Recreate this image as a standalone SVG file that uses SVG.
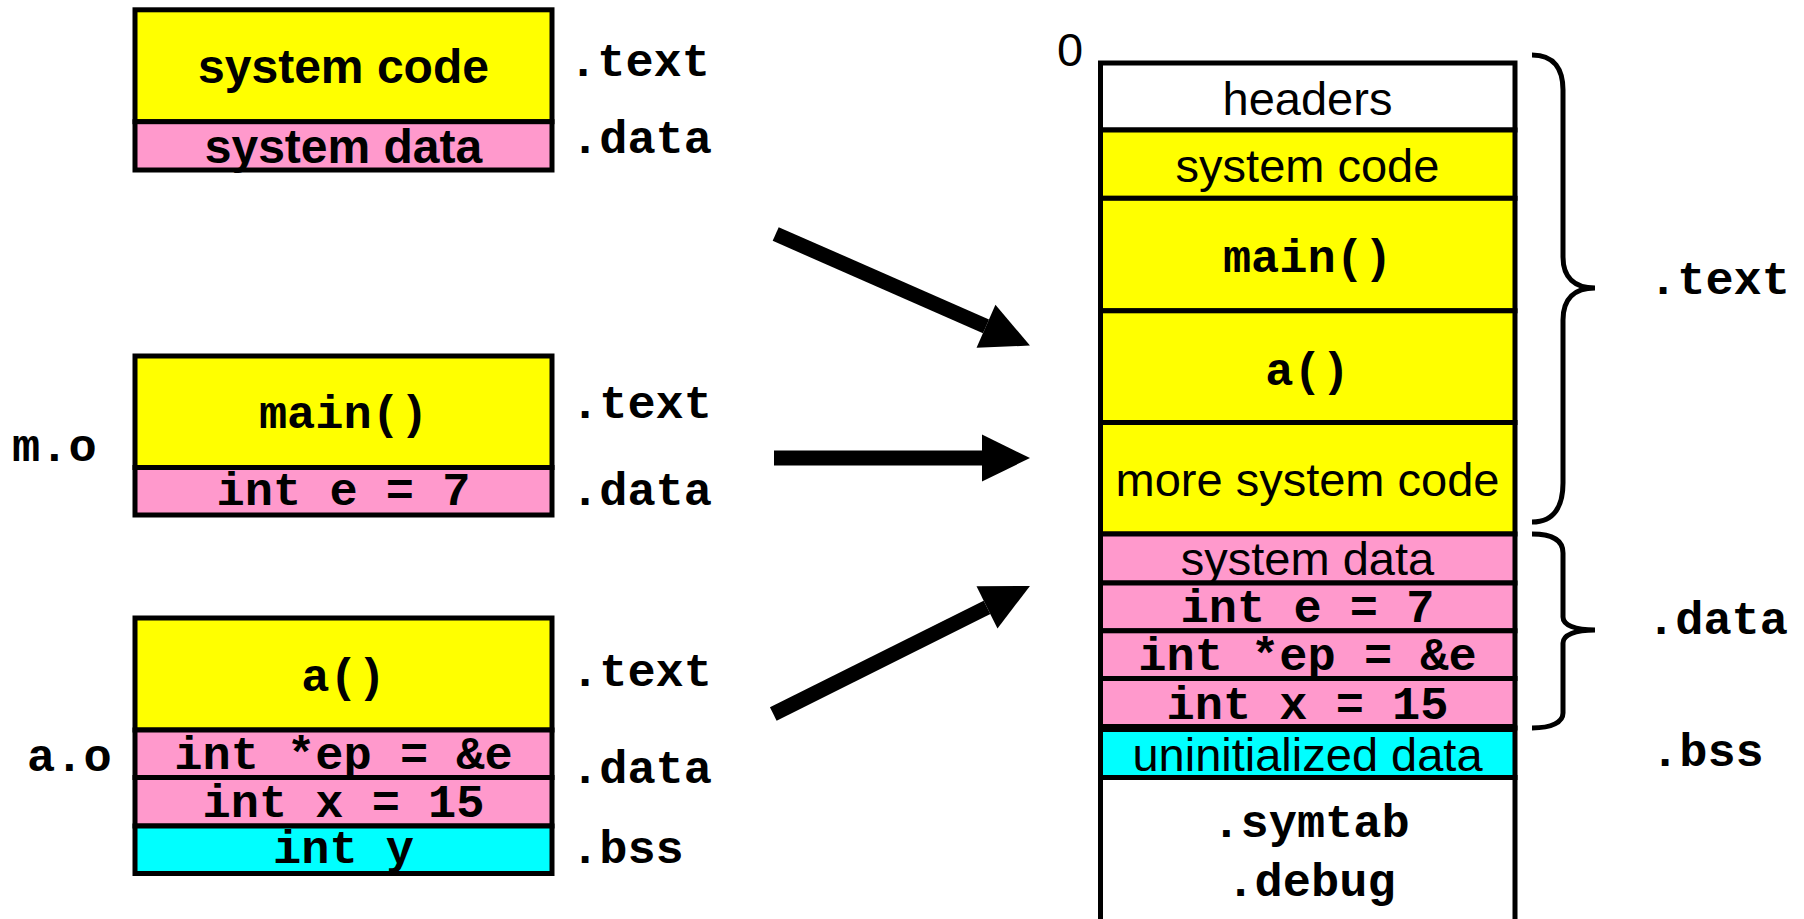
<svg xmlns="http://www.w3.org/2000/svg" width="1804" height="919" viewBox="0 0 1804 919">
  <style>
    .sec { stroke: #000; stroke-width: 5; }
    .y { fill: #FFFF00; }
    .p { fill: #FF99CC; }
    .c { fill: #00FFFF; }
    .w { fill: #FFFFFF; }
    .sans { font-family: "Liberation Sans", Arial, Helvetica, sans-serif; font-size: 47px; fill: #000; }
    .sansb { font-family: "Liberation Sans", Arial, Helvetica, sans-serif; font-size: 48px; font-weight: bold; fill: #000; }
    .mono { font-family: "Liberation Mono", "Courier New", monospace; font-size: 47px; font-weight: bold; fill: #000; }
    .mid { text-anchor: middle; }
    .brace { fill: none; stroke: #000; stroke-width: 5; }
    .arrow { stroke: #000; stroke-width: 15; fill: none; }
  </style>
  <defs>
    <marker id="head" markerUnits="userSpaceOnUse" markerWidth="50" markerHeight="48" refX="0" refY="23.5" orient="auto" overflow="visible">
      <path d="M0,0 L48,23.5 L0,47 Z" fill="#000"/>
    </marker>
  </defs>
  <rect width="1804" height="919" fill="#fff"/>

  <!-- system object -->
  <g id="sys-o">
    <g id="sys-text">
      <rect class="sec y" x="135" y="9.8" width="417" height="111.9"/>
      <text class="sansb mid" x="343.5" y="83">system code</text>
    </g>
    <g id="sys-data">
      <rect class="sec p" x="135" y="121.7" width="417" height="48.3"/>
      <text class="sansb mid" x="343.5" y="163">system data</text>
    </g>
    <text class="mono" x="569" y="76">.text</text>
    <text class="mono" x="571" y="153">.data</text>
  </g>

  <!-- m.o -->
  <g id="m-o">
    <g id="m-text">
      <rect class="sec y" x="135" y="356" width="417" height="111.5"/>
      <text class="mono mid" x="343.5" y="428">main()</text>
    </g>
    <g id="m-data">
      <rect class="sec p" x="135" y="467.5" width="417" height="47.5"/>
      <text class="mono mid" x="343.5" y="505">int e = 7</text>
    </g>
    <text class="mono" x="12" y="461">m.o</text>
    <text class="mono" x="571" y="418">.text</text>
    <text class="mono" x="571" y="505">.data</text>
  </g>

  <!-- a.o -->
  <g id="a-o">
    <g id="a-text">
      <rect class="sec y" x="135" y="618" width="417" height="112"/>
      <text class="mono mid" x="343.5" y="691">a()</text>
    </g>
    <g id="a-data1">
      <rect class="sec p" x="135" y="730" width="417" height="47.5"/>
      <text class="mono mid" x="343.5" y="768.5">int *ep = &amp;e</text>
    </g>
    <g id="a-data2">
      <rect class="sec p" x="135" y="777.5" width="417" height="48.5"/>
      <text class="mono mid" x="343.5" y="816.5">int x = 15</text>
    </g>
    <g id="a-bss">
      <rect class="sec c" x="135" y="826" width="417" height="47.5"/>
      <text class="mono mid" x="343.5" y="863">int y</text>
    </g>
    <text class="mono" x="27" y="771">a.o</text>
    <text class="mono" x="571" y="686">.text</text>
    <text class="mono" x="571" y="783">.data</text>
    <text class="mono" x="571" y="863">.bss</text>
  </g>

  <!-- connectors -->
  <g id="connectors">
    <line class="arrow" x1="775.7" y1="234" x2="986" y2="326.3" marker-end="url(#head)"/>
    <line class="arrow" x1="774" y1="458" x2="982" y2="458" marker-end="url(#head)"/>
    <line class="arrow" x1="773.3" y1="714" x2="987" y2="607.4" marker-end="url(#head)"/>
  </g>

  <!-- executable -->
  <g id="exe">
    <text class="sans" x="1057" y="66">0</text>
    <g id="exe-headers">
      <rect class="sec w" x="1100.5" y="63" width="414.5" height="67"/>
      <text class="sans mid" x="1307.5" y="114.5">headers</text>
    </g>
    <g id="exe-syscode">
      <rect class="sec y" x="1100.5" y="130" width="414.5" height="68.3"/>
      <text class="sans mid" x="1307.5" y="182">system code</text>
    </g>
    <g id="exe-main">
      <rect class="sec y" x="1100.5" y="198.3" width="414.5" height="112.5"/>
      <text class="mono mid" x="1307.5" y="272">main()</text>
    </g>
    <g id="exe-a">
      <rect class="sec y" x="1100.5" y="310.8" width="414.5" height="111.7"/>
      <text class="mono mid" x="1307.5" y="384.5">a()</text>
    </g>
    <g id="exe-moresys">
      <rect class="sec y" x="1100.5" y="422.5" width="414.5" height="111.5"/>
      <text class="sans mid" x="1307.5" y="495.5">more system code</text>
    </g>
    <g id="exe-sysdata">
      <rect class="sec p" x="1100.5" y="534" width="414.5" height="49"/>
      <text class="sans mid" x="1307.5" y="575">system data</text>
    </g>
    <g id="exe-e">
      <rect class="sec p" x="1100.5" y="583" width="414.5" height="47.8"/>
      <text class="mono mid" x="1307.5" y="622">int e = 7</text>
    </g>
    <g id="exe-ep">
      <rect class="sec p" x="1100.5" y="630.8" width="414.5" height="47.7"/>
      <text class="mono mid" x="1307.5" y="670">int *ep = &amp;e</text>
    </g>
    <g id="exe-x">
      <rect class="sec p" x="1100.5" y="678.5" width="414.5" height="49.5"/>
      <text class="mono mid" x="1307.5" y="718.5">int x = 15</text>
    </g>
    <g id="exe-bss">
      <rect class="sec c" x="1100.5" y="728" width="414.5" height="49.5"/>
      <line x1="1100.5" y1="728" x2="1515" y2="728" stroke="#000" stroke-width="8"/>
      <text class="sans mid" x="1307.5" y="770.5">uninitialized data</text>
    </g>
    <g id="exe-symtab">
      <rect class="sec w" x="1100.5" y="777.5" width="414.5" height="160"/>
      <text class="mono mid" x="1311" y="837">.symtab</text>
      <text class="mono mid" x="1311" y="896">.debug</text>
    </g>
    <g id="brace-text">
      <path class="brace" d="M1532,55 C1555,55 1563,70 1563,90 L1563,257 C1563,278 1575,288 1595,288 C1575,288 1563,298 1563,320 L1563,483 C1563,505 1555,522 1532,522"/>
      <text class="mono" x="1649" y="294">.text</text>
    </g>
    <g id="brace-data">
      <path class="brace" d="M1532,534 C1552,534 1563,540 1563,553 L1563,617 C1563,625 1575,630 1595,630 C1575,630 1563,635 1563,643 L1563,713 C1563,722 1552,728 1532,728"/>
      <text class="mono" x="1647" y="634">.data</text>
    </g>
    <text class="mono" x="1651" y="766">.bss</text>
  </g>
</svg>
